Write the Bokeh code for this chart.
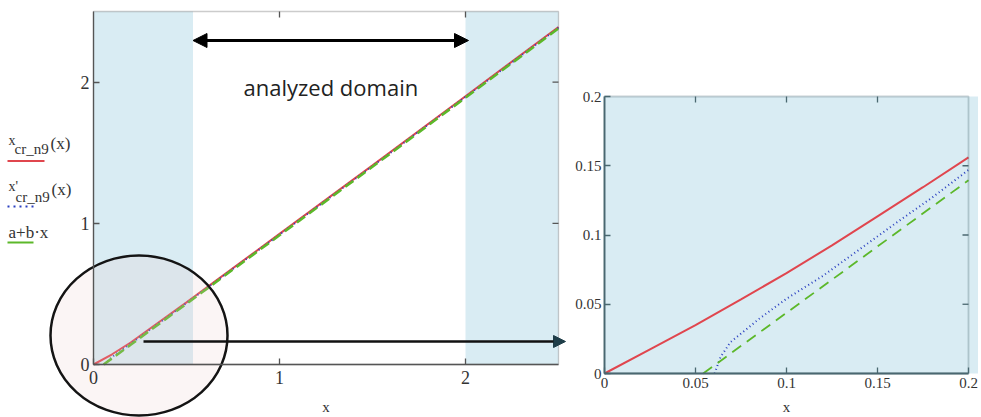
import numpy as np
from bokeh.plotting import figure
from bokeh.models import (BoxAnnotation, Arrow, NormalHead, Label, FixedTicker, Range1d)
from bokeh.layouts import row
from bokeh.embed import file_html
from bokeh.resources import INLINE

# ---------------- data ----------------
# left panel: whole domain 0..2.5
x_red_full = [0, 0.1, 0.2, 0.5, 1.0, 1.5, 2.0, 2.5]
y_red_full = [0, 0.0725, 0.156, 0.44, 0.925, 1.41, 1.90, 2.39]
x_blue_full = [0.0605, 0.1, 0.2, 0.5, 1.0, 1.5, 2.0, 2.5]
y_blue_full = [0, 0.054, 0.147, 0.435, 0.92, 1.405, 1.895, 2.385]
x_green_full = [0.0542, 0.2, 0.5, 1.0, 1.5, 2.0, 2.5]
y_green_full = [0, 0.1395, 0.43, 0.915, 1.40, 1.89, 2.38]

# right panel: zoom 0..0.2
x_red_zoom = [0, 0.025, 0.05, 0.075, 0.1, 0.125, 0.15, 0.175, 0.2]
y_red_zoom = [0, 0.0175, 0.035, 0.0535, 0.0725, 0.0925, 0.1135, 0.1345, 0.156]
x_blue_zoom = [0.0605, 0.0637, 0.0692, 0.085, 0.1, 0.12, 0.14, 0.16, 0.18, 0.2]
y_blue_zoom = [0, 0.0118, 0.0226, 0.0395, 0.054, 0.0705, 0.0895, 0.1085, 0.127, 0.147]
x_green_zoom = [0.0542, 0.1, 0.15, 0.2]
y_green_zoom = [0, 0.0438, 0.0917, 0.1395]

full_max = 2.5
zoom_max = 0.2
full_ticks = [0, 1, 2]
full_tick_labels = ["0", "1", "2"]
zoom_ticks = [0, 0.05, 0.1, 0.15, 0.2]
zoom_tick_labels = ["0", "0.05", "0.1", "0.15", "0.2"]

shaded_left = (0, 0.535)      # x-extent of left shaded band
shaded_right = (2.0, 2.5)     # x-extent of right shaded band

RED = "#e0464e"
BLUE = "#2a3fc0"
GREEN = "#5cb82a"
SHADE = "#d9ecf3"
SERIF = "Liberation Serif"
TXT = "#333333"

PAGE_X0, PAGE_Y0 = 0, 0   # where the canvas starts on the page


def make_panel(width, height, page_left, box, vmax, ticks, labels, frame_color, tick_size, fw):
    """box = (X0, X1, Ytop, Ybottom) page pixels of the plot box."""
    X0, X1, YT, YB = box
    kx = (X1 - X0) / vmax
    ky = (YB - YT) / vmax
    dx = lambda px: (px - X0) / kx
    dy = lambda py: (YB - py) / ky
    p = figure(width=width, height=height, output_backend="svg", toolbar_location=None,
               x_range=Range1d(dx(page_left), dx(page_left + width)),
               y_range=Range1d(dy(PAGE_Y0 + height), dy(PAGE_Y0)),
               min_border=0, min_border_left=0, min_border_right=0,
               min_border_top=0, min_border_bottom=0,
               background_fill_color="white", border_fill_color="white")
    p.grid.visible = False
    p.outline_line_color = None
    for ax in p.xaxis + p.yaxis:
        ax.fixed_location = 0
        ax.bounds = (0, vmax)
        ax.ticker = FixedTicker(ticks=ticks)
        ax.major_label_overrides = dict(zip(ticks, labels))
        ax.major_tick_in = 6
        ax.major_tick_out = 0
        ax.minor_tick_line_color = None
        ax.axis_line_color = frame_color
        ax.axis_line_width = fw
        ax.major_tick_line_color = frame_color
        ax.major_tick_line_width = 1.3
        ax.major_label_text_font = SERIF
        ax.major_label_text_font_size = tick_size
        ax.major_label_text_color = TXT
    p.xaxis.axis_label = "x"
    p.xaxis.axis_label_text_font = SERIF
    p.xaxis.axis_label_text_font_style = "normal"
    p.xaxis.axis_label_text_font_size = "15px"
    p.xaxis.axis_label_text_color = TXT
    # top and right edges of the plot box
    p.add_layout(BoxAnnotation(left=0, right=vmax, bottom=0, top=vmax, fill_alpha=0,
                               line_color=frame_color, line_width=fw, level="guide"))
    # inward ticks on top and right edges
    tick_len_y = 6 / ky
    tick_len_x = 6 / kx
    inner = [t for t in ticks if 0 < t < vmax]
    p.segment(x0=inner, y0=[vmax] * len(inner), x1=inner, y1=[vmax - tick_len_y] * len(inner),
              line_color=frame_color, line_width=1.3)
    p.segment(x0=[vmax] * len(inner), y0=inner, x1=[vmax - tick_len_x] * len(inner), y1=inner,
              line_color=frame_color, line_width=1.3)
    return p, dx, dy


# ---------------- left figure ----------------
LW, LH = 568, 417
pl, dx, dy = make_panel(LW, LH, PAGE_X0, (93, 558, 11, 364), full_max, full_ticks,
                        full_tick_labels, "#555555", "18px", 1.3)
pl.xaxis.major_label_standoff = 6
pl.yaxis.major_label_standoff = 4
pl.xaxis.axis_label_standoff = 12

for band in (shaded_left, shaded_right):
    pl.add_layout(BoxAnnotation(left=band[0], right=band[1], bottom=0, top=full_max,
                                fill_color=SHADE, fill_alpha=1, line_alpha=0, level="underlay"))

pl.line(x_red_full, y_red_full, line_color=RED, line_width=2)
pl.line(x_blue_full, y_blue_full, line_color=BLUE, line_width=2, line_dash="1 3")
pl.line(x_green_full, y_green_full, line_color=GREEN, line_width=2.5, line_dash="10 5")

# ellipse highlight
pl.ellipse(x=[dx(138.5)], y=[dy(335)], width=177, height=160,
           width_units="screen", height_units="screen",
           fill_color="#e9c9c6", fill_alpha=0.18, line_color="#141414", line_width=2.5)

# analyzed-domain double arrow
pl.add_layout(Arrow(start=NormalHead(size=14, fill_color="black", line_color="black"),
                    end=NormalHead(size=14, fill_color="black", line_color="black"),
                    x_start=shaded_left[1], x_end=dx(468), y_start=dy(40), y_end=dy(40),
                    line_width=3, line_color="black"))
pl.add_layout(Label(x=dx(243), y=dy(86), text="analyzed domain", text_font="Open Sans",
                    text_font_size="22px", text_color="#222222", text_baseline="alphabetic"))

# zoom arrow toward right panel
pl.add_layout(Arrow(end=NormalHead(size=12, fill_color="#1e3d48", line_color="#1e3d48"),
                    x_start=dx(143), x_end=dx(565), y_start=dy(341), y_end=dy(341),
                    line_width=2.5, line_color="#111111"))


# Mathcad-style legend at left
def lab(px, py, txt, size):
    pl.add_layout(Label(x=dx(px), y=dy(py), text=txt, text_font=SERIF, text_font_size=size,
                        text_color=TXT, text_baseline="alphabetic"))


lab(8, 139.5, "x", "14px"); lab(14, 148.5, "cr_n9", "15px"); lab(50, 142.5, "(x)", "17px")
lab(8, 185.5, "x'", "14px"); lab(15, 196, "cr_n9", "15px"); lab(51, 188.5, "(x)", "17px")
lab(8, 231.5, "a+b·x", "17px")

pl.segment(x0=[dx(7)], y0=[dy(160.5)], x1=[dx(44)], y1=[dy(160.5)], line_color=RED, line_width=2)
pl.segment(x0=[dx(7)], y0=[dy(206)], x1=[dx(37)], y1=[dy(206)], line_color=BLUE, line_width=2,
           line_dash="2 4")
pl.segment(x0=[dx(7)], y0=[dy(242)], x1=[dx(33)], y1=[dy(242)], line_color=GREEN, line_width=2)

# ---------------- right figure ----------------
RW, RH = 410, 417
FR = "#4a6870"
pr, rdx, rdy = make_panel(RW, RH, PAGE_X0 + LW, (604, 968, 96, 373), zoom_max, zoom_ticks,
                          zoom_tick_labels, FR, "15px", 1.8)
pr.xaxis.major_label_standoff = 4
pr.yaxis.major_label_standoff = 3
pr.xaxis.axis_label_standoff = 8
pr.add_layout(BoxAnnotation(left=0, right=None, bottom=0, top=zoom_max,
                            fill_color=SHADE, fill_alpha=1, line_alpha=0, level="underlay"))

pr.line(x_red_zoom, y_red_zoom, line_color=RED, line_width=2)
pr.line(x_blue_zoom, y_blue_zoom, line_color=BLUE, line_width=2, line_dash="1 3")
pr.line(x_green_zoom, y_green_zoom, line_color=GREEN, line_width=1.8, line_dash="11 7")

layout = row(pl, pr)
open("out.html", "w").write(file_html(layout, INLINE))
